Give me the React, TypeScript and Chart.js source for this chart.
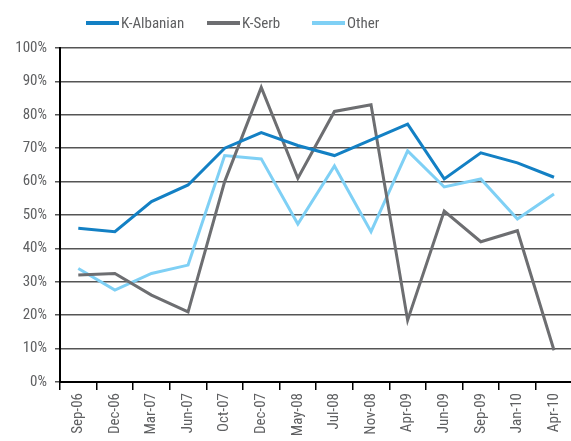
import React, { useEffect, useRef } from "react";
import { Chart, registerables } from "chart.js";

Chart.register(...registerables);

const categories = ["Sep-06", "Dec-06", "Mar-07", "Jun-07", "Oct-07", "Dec-07", "May-08", "Jul-08", "Nov-08", "Apr-09", "Jun-09", "Sep-09", "Jan-10", "Apr-10"];
const kAlbanian = [46, 45, 54, 59, 70, 74.7, 70.8, 67.8, 72.5, 77.2, 60.8, 68.6, 65.6, 61.3];
const kSerb = [32, 32.5, 26, 21, 60, 88.2, 61, 81, 83, 18.5, 51.2, 42, 45.3, 9.5];
const other = [34, 27.5, 32.5, 35, 67.8, 66.8, 47.3, 64.7, 45, 69.2, 58.4, 60.8, 48.8, 56.3];

const seriesNames = ["K-Albanian", "K-Serb", "Other"];
const seriesColors = ["#1380C4", "#6D6E71", "#7FD0F5"];

const FONT = "'Roboto Condensed', 'Liberation Sans Narrow', sans-serif";
const TEXT = "#5E5F61";

export default function App() {
  const ref = useRef<HTMLCanvasElement>(null);
  useEffect(() => {
    document.body.style.margin = "0";
    document.body.style.overflow = "hidden";
    const ctx = ref.current!;
    const data = [kAlbanian, kSerb, other];
    const chart = new Chart(ctx, {
      type: "line",
      data: {
        labels: categories,
        datasets: seriesNames.map((n, i) => ({
          label: n,
          data: data[i],
          borderColor: seriesColors[i],
          backgroundColor: seriesColors[i],
          borderWidth: 3,
          pointRadius: 0,
          tension: 0,
          fill: false,
        })),
      },
      options: {
        animation: false,
        responsive: false,
        layout: { padding: { top: 48, right: 0, left: 0, bottom: 0 } },
        plugins: { legend: { display: false }, tooltip: { enabled: false } },
        scales: {
          x: {
            offset: true,
            grid: { offset: true, drawOnChartArea: false, color: "#000", tickLength: 8, lineWidth: 1.5 },
            border: { color: "#000", width: 2 },
            ticks: { maxRotation: 90, minRotation: 90, color: TEXT, font: { family: FONT, size: 15 }, padding: 3, autoSkip: false },
            afterFit: (s: any) => { s.height = 59; },
          },
          y: {
            min: 0,
            max: 100,
            grid: { color: "#555", lineWidth: 1.5, tickLength: 5 },
            border: { color: "#000", width: 2 },
            ticks: { stepSize: 10, color: TEXT, font: { family: FONT, size: 15 }, padding: 8, callback: (v: any) => v + "%" },
            afterFit: (s: any) => { s.width = 60; },
          },
        },
      },
    });
    return () => chart.destroy();
  }, []);

  const legendLeft = [86, 207, 312];
  return (
    <div style={{ position: "relative", width: 571, height: 441, overflow: "hidden" }}>
      <canvas ref={ref} width={575} height={441} style={{ display: "block" }} />
      {seriesNames.map((n, i) => (
        <div key={n} style={{ position: "absolute", left: legendLeft[i], top: 14, display: "flex", alignItems: "center", fontFamily: FONT, fontSize: 15, color: TEXT, lineHeight: "18px" }}>
          <span style={{ display: "inline-block", width: 33, height: 4, background: seriesColors[i], marginRight: 2 }} />
          <span>{n}</span>
        </div>
      ))}
    </div>
  );
}
